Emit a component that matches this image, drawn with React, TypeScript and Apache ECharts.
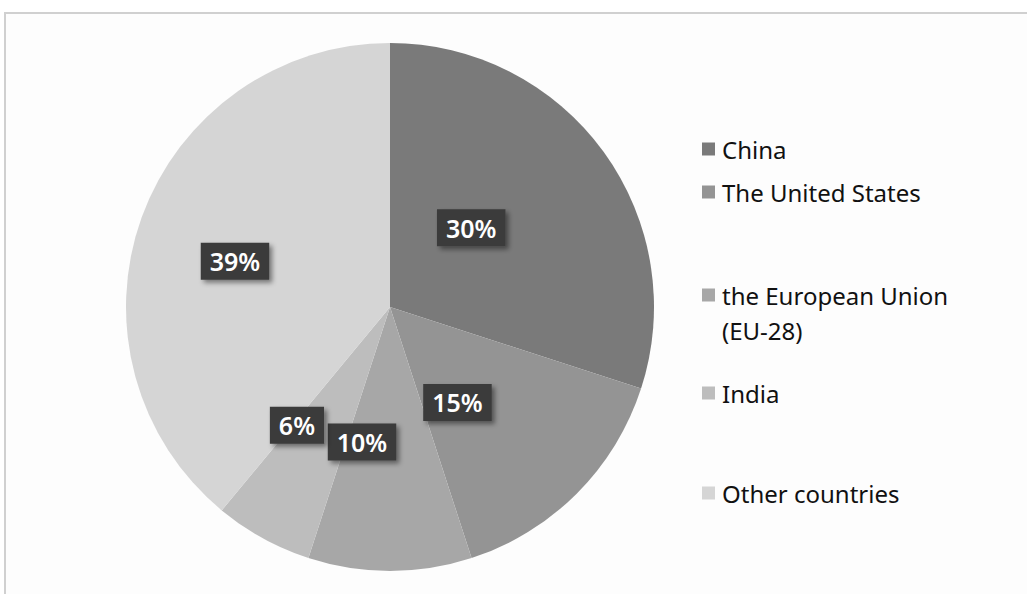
import React, { useEffect, useRef } from "react";
import * as echarts from "echarts";

const categories = ["China", "The United States", "the European Union (EU-28)", "India", "Other countries"];
const legendLabels = ["China", "The United States", "the European Union", "India", "Other countries"];
const values = [30, 15, 10, 6, 39];
const colors = ["#7a7a7a", "#949494", "#a7a7a7", "#bdbdbd", "#d5d5d5"];
const legendTops = [130, 173, 276, 374, 474];

export default function App() {
  const ref = useRef<HTMLDivElement>(null);
  useEffect(() => {
    if (!ref.current) return;
    const chart = echarts.init(ref.current, undefined, { renderer: "svg" });
    const font = "'Noto Sans', 'Open Sans', sans-serif";
    chart.setOption({
      animation: false,
      backgroundColor: "#ffffff",
      graphic: [
        {
          type: "rect",
          shape: { x: 5, y: 13, width: 1040, height: 600 },
          style: { fill: "#fdfdfd", stroke: "#d0d0d0", lineWidth: 2 },
          z: -10,
        },
        {
          type: "text",
          left: 722,
          top: 318,
          style: { text: "(EU-28)", font: `24px ${font}`, fill: "#111111" },
        },
      ],
      legend: categories.map((c, i) => ({
        data: [c],
        orient: "vertical",
        left: 697,
        top: legendTops[i],
        itemWidth: 13,
        itemHeight: 13,
        itemGap: 0,
        icon: "rect",
        selectedMode: false,
        textStyle: { fontFamily: font, fontSize: 24, color: "#111111", lineHeight: 28, padding: [0, 0, 0, 2] },
        formatter: () => legendLabels[i],
      })),
      series: [
        {
          type: "pie",
          center: [390, 307],
          radius: 264,
          startAngle: 90,
          clockwise: true,
          data: categories.map((c, i) => ({ name: c, value: values[i], itemStyle: { color: colors[i] } })),
          label: {
            show: true,
            position: "inside",
            formatter: "{d}%",
            offset: [-28, 0],
            fontFamily: font,
            fontSize: 25,
            fontWeight: 600,
            color: "#ffffff",
            backgroundColor: "#3a3a3a",
            padding: [6, 9, 6, 9],
            shadowColor: "rgba(0,0,0,0.45)",
            shadowBlur: 5,
            shadowOffsetX: 3,
            shadowOffsetY: 3,
          },
          labelLine: { show: false },
          labelLayout: { hideOverlap: false },
          emphasis: { disabled: true },
        },
      ],
    });
    return () => chart.dispose();
  }, []);
  return <div ref={ref} style={{ position: "fixed", left: 0, top: 0, width: 1027, height: 594 }} />;
}
